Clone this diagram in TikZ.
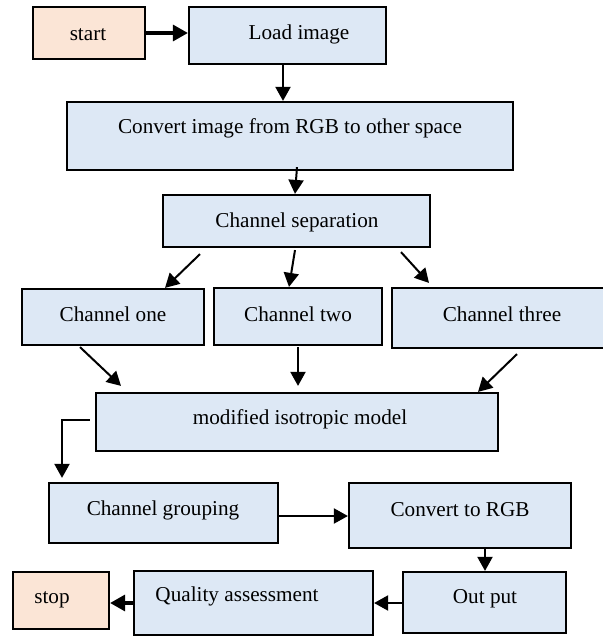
\documentclass[tikz,border=0pt]{standalone}
\usepackage{fontspec}
\setmainfont{Liberation Serif}
\usetikzlibrary{fit,arrows.meta,calc}
\definecolor{boxblue}{HTML}{DDE8F5}
\definecolor{boxpeach}{HTML}{FBE5D6}
\tikzset{
  bx/.style={draw=black, line width=1.1pt, fill=boxblue, inner sep=0pt},
  bxp/.style={bx, fill=boxpeach},
  lbl/.style={font=\fontsize{10.6}{12}\selectfont, inner sep=0pt, yshift=-0.8pt},
  arr/.style={line width=1pt, -{Triangle[length=7pt,width=7.5pt]}},
  arrthick/.style={line width=1.6pt, -{Triangle[length=7.5pt,width=8pt]}}
}
\begin{document}
\begin{tikzpicture}[x=0.5pt,y=-0.5pt]
\useasboundingbox (0,0) rectangle (603,637);
\clip (0,0) rectangle (603,637);
% boxes
\node[bxp, fit={(33,7) (145,59)}] (start) {};
\node[bx, fit={(189,7) (386,64)}] (load) {};
\node[bx, fit={(67,102) (513,170)}] (conv) {};
\node[bx, fit={(163,195) (430,247)}] (sep) {};
\node[bx, fit={(22,289) (204,345)}] (ch1) {};
\node[bx, fit={(214,288) (382,345)}] (ch2) {};
\node[bx, fit={(392,288) (607,348)}] (ch3) {};
\node[bx, fit={(96,393) (498,451)}] (mod) {};
\node[bx, fit={(49,483) (278,543)}] (grp) {};
\node[bx, fit={(349,483) (571,548)}] (rgb) {};
\node[bx, fit={(403,572) (566,633)}] (out) {};
\node[bx, fit={(134,571) (373,635)}] (qa) {};
\node[bxp, fit={(13,572) (109,629)}] (stop) {};
% texts
\node[lbl] (tstart) at (88,33) {start};
\node[lbl] (tload) at (299,33) {Load image};
\node[lbl] (tconv) at (290,127) {Convert image from RGB to other space};
\node[lbl] (tsep) at (297,221) {Channel separation};
\node[lbl] (tch1) at (113,313) {Channel one};
\node[lbl] (tch2) at (298,313) {Channel two};
\node[lbl] (tch3) at (502,313) {Channel three};
\node[lbl] (tmod) at (300,418) {modified isotropic model};
\node[lbl] (tgrp) at (163,509) {Channel grouping};
\node[lbl] (trgb) at (460,508) {Convert to RGB};
\node[lbl] (tout) at (485,597) {Out put};
\node[lbl] (tqa) at (237,595) {Quality assessment};
\node[lbl] (tstop) at (52,598) {stop};
% connectors
\draw[arrthick] (start.east |- 0,33) -- (load.west |- 0,33);
\draw[arr] (load.south -| 283,0) -- (conv.north -| 283,0);
\draw[arr] ([yshift=2pt]conv.south -| 297,0) -- (sep.north -| 295,0);
\draw[arr] ([yshift=-3pt]sep.south -| 200,0) -- (ch1.north -| 165,0);
\draw[arr] ([yshift=-1pt]sep.south -| 295,0) -- (ch2.north -| 289,0);
\draw[arr] ([yshift=-2pt]sep.south -| 401,0) -- ([yshift=2pt]ch3.north -| 429,0);
\draw[arr] ([yshift=-0.5pt]ch1.south -| 80,0) -- ([yshift=3pt]mod.north -| 121,0);
\draw[arr] ([yshift=-0.5pt]ch2.south -| 298,0) -- ([yshift=3pt]mod.north -| 298,0);
\draw[arr] ([yshift=-2.5pt]ch3.south -| 517,0) -- (mod.north -| 478,0);
\coordinate (elb) at (62,420);
\draw[arr] ([xshift=-2.5pt]mod.west |- 0,420) -- (elb) -- ([yshift=2pt]grp.north -| elb);
\draw[arr] (grp.east |- 0,516) -- (rgb.west |- 0,516);
\draw[arr] ([yshift=1pt]rgb.south -| 485,0) -- (out.north -| 485,0);
\draw[arr] (out.west |- 0,603) -- (qa.east |- 0,603);
\draw[arrthick] (qa.west |- 0,603) -- (stop.east |- 0,603);
\end{tikzpicture}
\end{document}
